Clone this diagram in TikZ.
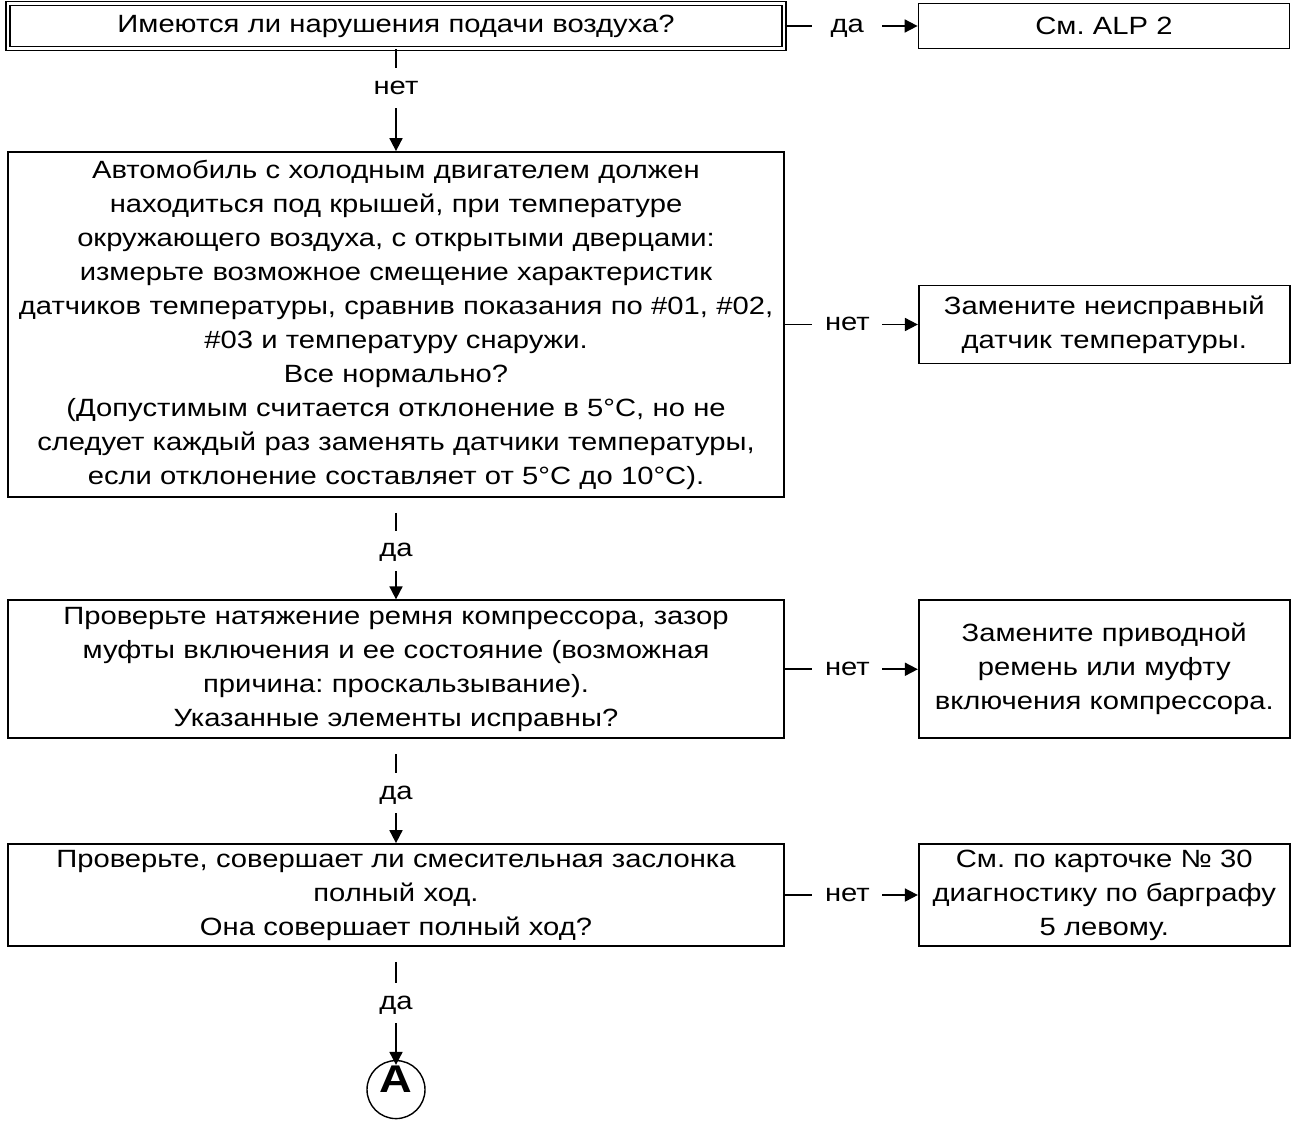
\documentclass[tikz,border=0pt]{standalone}
\usepackage{fontspec}
\setmainfont{Liberation Sans}[FakeStretch=1.17]
\usetikzlibrary{positioning,arrows.meta}
\frenchspacing

\begin{document}
\begin{tikzpicture}[
  font=\fontsize{14.2}{19.35}\selectfont,
  line width=1pt,
  >={Triangle[length=0.26cm,width=0.26cm]},
  box/.style={draw, align=center, inner xsep=0pt, inner ysep=0pt},
  qbox/.style={box, text width=15.52cm},
  abox/.style={box, text width=7.42cm},
  lbl/.style={fill=white, inner sep=0pt, text height=10.2pt, text depth=3pt, minimum height=0.8cm},
  hlbl/.style={fill=white, inner sep=0pt, text height=10.2pt, text depth=3pt, minimum width=1.4cm}
]
\useasboundingbox (0,0) rectangle (25.96,-22.4);
\node[qbox, double, double distance=1.5pt, line width=0.7pt, minimum height=0.9cm] (q1) at (7.92,-0.52) {Имеются ли нарушения подачи воздуха?};
\node[abox, minimum height=0.9cm, right=2.66cm of q1] (r1) {См. ALP 2};
\node[qbox, minimum height=6.9cm, below=2.04cm of q1] (q2) {Автомобиль с холодным двигателем должен\\
  находиться под крышей, при температуре\\
  окружающего воздуха, с открытыми дверцами:\\
  измерьте возможное смещение характеристик\\
  датчиков температуры, сравнив показания по \#01, \#02,\\
  \#03 и температуру снаружи.\\
  Все нормально?\\
  (Допустимым считается отклонение в 5°C, но не\\
  следует каждый раз заменять датчики температуры,\\
  если отклонение составляет от 5°C до 10°C).};
\node[abox, minimum height=1.56cm, right=2.66cm of q2] (r2) {Замените неисправный\\датчик температуры.};
\node[qbox, minimum height=2.76cm, below=2.03cm of q2] (q3) {Проверьте натяжение ремня компрессора, зазор\\
  муфты включения и ее состояние (возможная\\
  причина: проскальзывание).\\
  Указанные элементы исправны?};
\node[abox, minimum height=2.76cm, right=2.66cm of q3] (r3) {Замените приводной\\ремень или муфту\\включения компрессора.};
\node[qbox, minimum height=2.04cm, below=2.08cm of q3] (q4) {Проверьте, совершает ли смесительная заслонка\\
  полный ход.\\
  Она совершает полный ход?};
\node[abox, minimum height=2.04cm, right=2.66cm of q4] (r4) {См. по карточке № 30\\диагностику по барграфу\\5 левому.};
\node[circle, draw, line width=0.8pt, minimum size=1.16cm, inner sep=0pt, font=\fontsize{22}{22}\selectfont\bfseries, below=2.26cm of q4] (a) {\raisebox{0.2cm}[\height][\depth]{A}};
% ответы да / нет
\draw[->] (q1.east) -- (r1.west) node[hlbl, pos=0.47] {да};
\draw[->] (q2.east) -- (r2.west) node[hlbl, pos=0.47] {нет};
\draw[->] (q3.east) -- (r3.west) node[hlbl, pos=0.47] {нет};
\draw[->] (q4.east) -- (r4.west) node[hlbl, pos=0.47] {нет};
\draw[->] (q1.south) -- (q2.north) node[lbl, pos=0.38] {нет};
\draw[->, shorten <=0.3cm] (q2.south) -- (q3.north) node[lbl, pos=0.52] {да};
\draw[->, shorten <=0.3cm] (q3.south) -- (q4.north) node[lbl, pos=0.52] {да};
\draw[->, shorten <=0.3cm, shorten >=-0.1cm] (q4.south) -- (a.north) node[lbl, pos=0.5] {да};
\end{tikzpicture}
\end{document}
